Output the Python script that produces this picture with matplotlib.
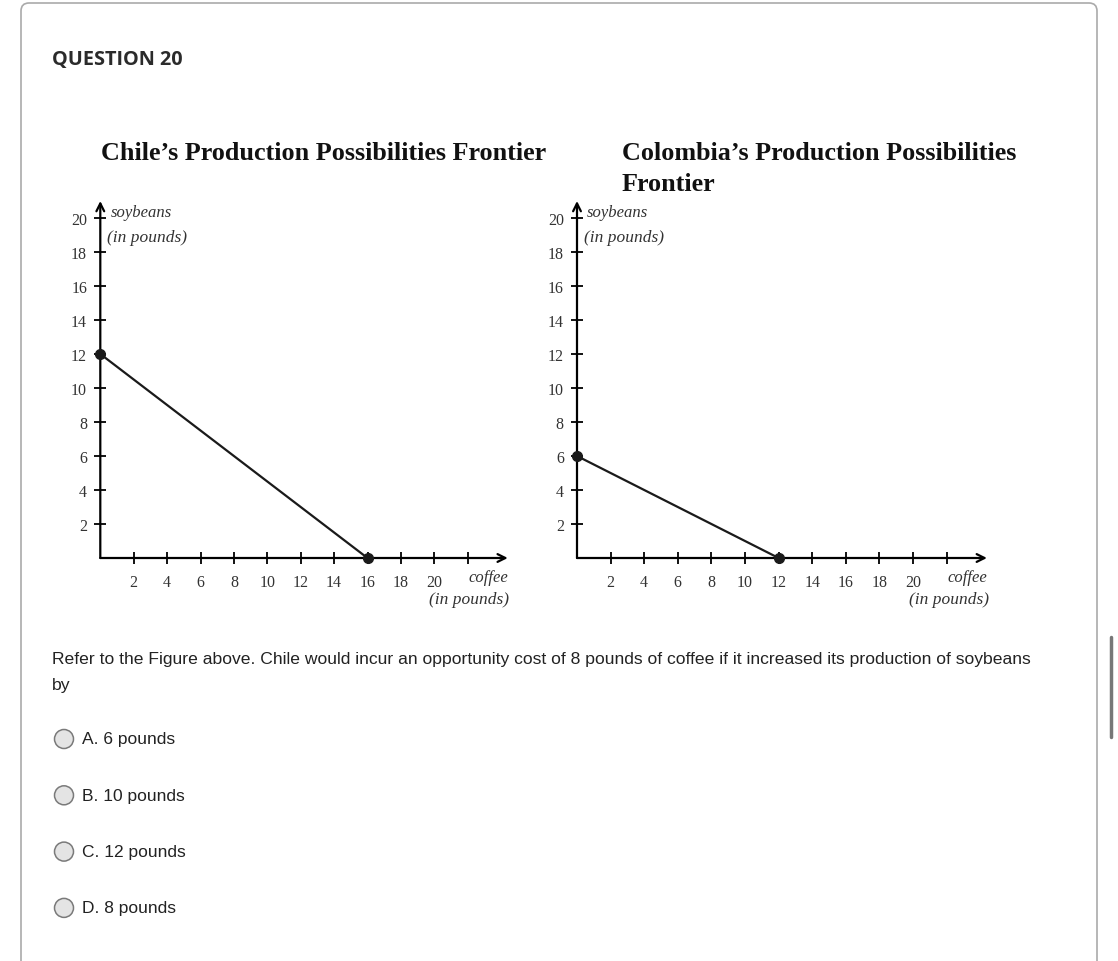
import matplotlib.pyplot as plt
from matplotlib.patches import FancyBboxPatch, Circle

# PPF data
countries = ['Chile', 'Colombia']
titles = ['Chile\u2019s Production Possibilities Frontier',
          'Colombia\u2019s Production Possibilities\nFrontier']
soy_max = [12, 6]       # soybeans intercept (pounds)
coffee_max = [16, 12]   # coffee intercept (pounds)
x_ticks = [2, 4, 6, 8, 10, 12, 14, 16, 18, 20, 22]
x_tick_labels = ['2', '4', '6', '8', '10', '12', '14', '16', '18', '20', '']
y_ticks = [2, 4, 6, 8, 10, 12, 14, 16, 18, 20]

question = ('Refer to the Figure above. Chile would incur an opportunity cost of 8 pounds '
            'of coffee if it increased its production of soybeans')
options = ['A. 6 pounds', 'B. 10 pounds', 'C. 12 pounds', 'D. 8 pounds']

W, H = 1118, 962
fig = plt.figure(figsize=(W / 100, H / 100), dpi=100)

# background canvas in pixel coordinates
bg = fig.add_axes([0, 0, 1, 1])
bg.set_xlim(0, W)
bg.set_ylim(H, 0)
bg.axis('off')

frame = FancyBboxPatch((21, 4), 1076, 1000, boxstyle='round,pad=0,rounding_size=8',
                       fc='white', ec='#aaaaaa', lw=1.2)
bg.add_patch(frame)
bg.plot([1111, 1111], [638, 738], color='#777777', lw=2.5, solid_capstyle='round')

bg.text(52, 60, 'QUESTION 20', family='Open Sans', weight='bold', fontsize=14.3,
        color='#2b2b2b', va='center', ha='left')

serif = 'Liberation Serif'
bg.text(324, 153, titles[0], family=serif, weight='bold', fontsize=18.8,
        ha='center', va='center', color='#111111')
bg.text(622, 169, titles[1], family=serif, weight='bold', fontsize=18.8,
        ha='left', va='center', color='#111111', linespacing=1.45)

bg.text(52, 660, question, family='Liberation Sans', fontsize=12.6, color='#222222',
        ha='left', va='center')
bg.text(52, 686, 'by', family='Liberation Sans', fontsize=12.6, color='#222222',
        ha='left', va='center')

for i, opt in enumerate(options):
    yy = 740 + i * 56.3
    bg.add_patch(Circle((64, yy), 9.5, fc='#e4e4e4', ec='#7a7a7a', lw=1.1))
    bg.text(82, yy, opt, family='Liberation Sans', fontsize=12.5, color='#222222',
            ha='left', va='center')

# chart axes: origin in pixels and pixel size of one unit
origins = [100.3, 577]
x_unit = [16.7, 16.8]
y0_px, y_unit = 559, 17.0
x_max, y_max = 24.6, 21.4

for i in range(2):
    ax = fig.add_axes([origins[i] / W, (H - y0_px) / H,
                       x_max * x_unit[i] / W, y_max * y_unit / H])
    ax.set_xlim(0, x_max)
    ax.set_ylim(0, y_max)
    ax.patch.set_alpha(0)
    for s in ax.spines.values():
        s.set_visible(False)

    ax.annotate('', xy=(24.4, 0), xytext=(0, 0), annotation_clip=False,
                arrowprops=dict(arrowstyle='->', lw=1.6, color='black',
                                mutation_scale=14, shrinkA=0, shrinkB=0))
    ax.annotate('', xy=(0, 21.0), xytext=(0, 0), annotation_clip=False,
                arrowprops=dict(arrowstyle='->', lw=1.6, color='black',
                                mutation_scale=14, shrinkA=0, shrinkB=0))

    ax.set_xticks(x_ticks)
    ax.set_xticklabels(x_tick_labels)
    ax.set_yticks(y_ticks)
    ax.tick_params(direction='inout', length=9, width=1.3, color='black',
                   labelsize=11.5, labelcolor='#333333')
    ax.tick_params(axis='x', pad=7)
    ax.tick_params(axis='y', pad=5)
    for lab in ax.get_xticklabels() + ax.get_yticklabels():
        lab.set_family(serif)

    ax.plot([0, coffee_max[i]], [soy_max[i], 0], color='#1a1a1a', lw=1.6,
            marker='o', ms=7, clip_on=False, zorder=5)

    ax.text(0.6, 20.35, 'soybeans', family=serif, style='italic', fontsize=12,
            color='#333333', ha='left', va='center')
    ax.text(0.4, 18.9, '(in pounds)', family=serif, style='italic', fontsize=12.5,
            color='#333333', ha='left', va='center')
    ax.text(24.4, -1.1, 'coffee', family=serif, style='italic', fontsize=12,
            color='#333333', ha='right', va='center')
    ax.text(24.5, -2.4, '(in pounds)', family=serif, style='italic', fontsize=12.5,
            color='#333333', ha='right', va='center')

fig.savefig('out.png', dpi=100)
